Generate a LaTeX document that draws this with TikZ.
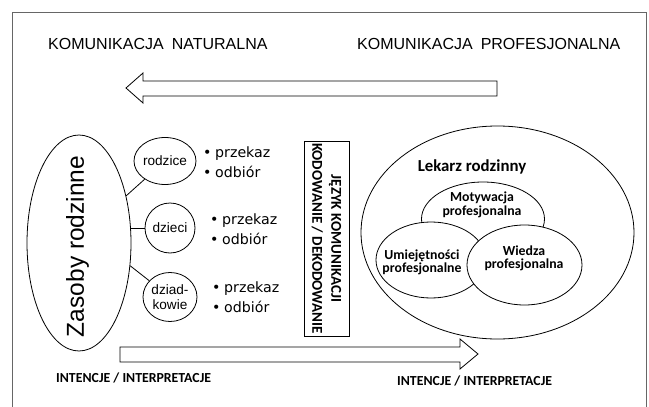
\documentclass[tikz,border=0pt]{standalone}
\usepackage{fontspec}
\setmainfont{Liberation Sans}
\newfontfamily\carlitofam{Carlito}
\newfontfamily\dejavufam{DejaVu Sans}
\usetikzlibrary{shapes.geometric}
\newcommand{\fsz}[2]{\fontsize{#1}{#2}\selectfont}
\tikzset{
  oval/.style={draw, ellipse, inner sep=0pt, line width=0.8pt, fill=white},
  conn/.style={draw, line width=0.8pt},
  bigarrow/.style={draw, line width=0.8pt, fill=white, line join=miter},
  toplabel/.style={anchor=west, inner sep=0pt, font=\fsz{16}{19}},
  blabel/.style={anchor=west, inner sep=0pt, font=\carlitofam\bfseries\fsz{13.8}{16}},
  bul/.style={anchor=west, inner sep=0pt, align=left, font=\dejavufam\fsz{14.2}{20}},
  innertext/.style={inner sep=0pt, align=center, font=\carlitofam\bfseries\fsz{13.8}{13.5}},
}
\newcommand{\bl}[1]{\makebox[12pt][l]{\textbullet}#1}
\begin{document}
\begin{tikzpicture}[x=1pt, y=-1pt]
\useasboundingbox (0,0) rectangle (649,407);
% frame
\draw[line width=0.9pt, black!60] (12,410) -- (12,12) -- (646,12) -- (646,410);
% top labels
\node[toplabel] (kn) at (48,44) {KOMUNIKACJA\hspace{0.5em}NATURALNA};
\node[toplabel] (kp) at (357,44) {KOMUNIKACJA\hspace{0.5em}PROFESJONALNA};
% top arrow (pointing left)
\draw[bigarrow] (497,81) -- (143,81) -- (143,73) -- (126,88) -- (143,103) -- (143,96) -- (497,96) -- cycle;
% bottom arrow (pointing right)
\draw[bigarrow] (120,347) -- (460,347) -- (460,339) -- (478,354) -- (460,369) -- (460,362) -- (120,362) -- cycle;
% family resources
\node[oval, minimum width=104pt, minimum height=216pt] (zr) at (79,243) {};
\node[rotate=90, inner sep=0pt, font=\fsz{24.5}{28}] (zrt) at (77.5,246.5) {Zasoby rodzinne};
\node[oval, minimum width=54pt, minimum height=47pt, font=\fsz{13.6}{15}] (rod) at (165,161) {rodzice};
\node[oval, minimum width=50pt, minimum height=50pt, font=\fsz{13.6}{15}] (dz) at (170,228) {dzieci};
\node[oval, minimum width=54pt, minimum height=49pt, align=center, font=\fsz{13.6}{15}] (dk) at (170,297) {dziad-\\kowie};
\draw[conn] (zr.45) -- (rod);
\draw[conn] (dz.west) -- (dz.west -| zr.east);
\draw[conn] (zr.-24) -- (dk);
\node[bul] (b1) at (203,162) {\bl{przekaz}\\\bl{odbiór}};
\node[bul] (b2) at (210,229.5) {\bl{przekaz}\\\bl{odbiór}};
\node[bul] (b3) at (212,297) {\bl{przekaz}\\\bl{odbiór}};
% language box
\node[draw, line width=0.8pt, rotate=-90, minimum width=195pt, minimum height=45pt, inner sep=0pt, align=center, font=\carlitofam\bfseries\fsz{15}{19}] (jk) at (326.5,238.5) {JĘZYK KOMUNIKACJI\\KODOWANIE / DEKODOWANIE};
% family doctor
\node[oval, minimum width=273pt, minimum height=213pt] (lr) at (497.5,232.5) {};
\node[inner sep=0pt, font=\carlitofam\bfseries\fsz{16.8}{19}] (lrt) at (472,167) {Lekarz rodzinny};
\node[oval, minimum width=123pt, minimum height=74pt] (mot) at (483,219) {};
\node[innertext] (mott) at (482,205) {Motywacja\\profesjonalna};
\node[oval, minimum width=110pt, minimum height=76pt] (um) at (431,260) {};
\node[innertext] (umt) at (422,262.5) {Umiejętności\\profesjonalne};
\node[oval, minimum width=115pt, minimum height=80pt] (wi) at (524.5,265) {};
\node[innertext] (wit) at (524,258.5) {Wiedza\\profesjonalna};
% bottom labels
\node[blabel] (ii1) at (56,378) {INTENCJE / INTERPRETACJE};
\node[blabel] (ii2) at (397,381) {INTENCJE / INTERPRETACJE};
\end{tikzpicture}
\end{document}
